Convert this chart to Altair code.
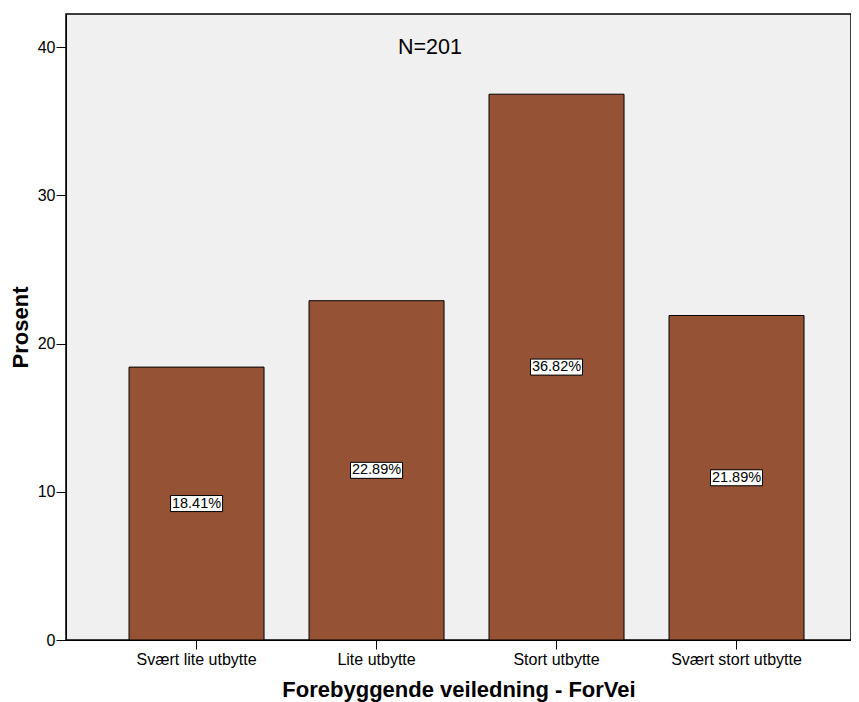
import altair as alt
import pandas as pd

categories = ["Svært lite utbytte", "Lite utbytte", "Stort utbytte", "Svært stort utbytte"]
values = [18.41, 22.89, 36.82, 21.89]
labels = ["18.41%", "22.89%", "36.82%", "21.89%"]

df = pd.DataFrame({"cat": categories, "val": values, "lab": labels})
df["half"] = df["val"] / 2

W, H = 785, 626
FONT = "Liberation Sans"

x = alt.X("cat:N", sort=categories,
          scale=alt.Scale(paddingInner=0.25, paddingOuter=0.3056, align=0.573),
          axis=alt.Axis(title="Forebyggende veiledning - ForVei", labelAngle=0,
                        labelFontSize=16, labelColor="black", labelFont=FONT,
                        titleFontSize=22, titleFont=FONT, titleFontWeight="bold",
                        titleColor="black", titleY=56, titleBaseline="alphabetic",
                        tickSize=9, tickColor="black", domainColor="black",
                        labelPadding=2))
yscale = alt.Scale(domain=[0, 42.23], nice=False, zero=True)

bars = alt.Chart(df).mark_bar(color="#955235", stroke="black", strokeWidth=1).encode(
    x=x,
    y=alt.Y("val:Q", scale=yscale,
            axis=alt.Axis(title="Prosent", values=[0, 10, 20, 30, 40], grid=False,
                          labelFontSize=16, labelColor="black", labelFont=FONT,
                          titleFontSize=22, titleFont=FONT, titleFontWeight="bold",
                          titleColor="black", titleX=-39, titleBaseline="alphabetic",
                          tickSize=10, tickColor="black", domainColor="black",
                          labelPadding=1)),
)

boxes = alt.Chart(df).mark_point(
    shape="M-1,-0.308L1,-0.308L1,0.308L-1,0.308Z",
    filled=True, fill="white", stroke="black", strokeWidth=1, opacity=1, size=2704,
).encode(x=alt.X("cat:N", sort=categories), y=alt.Y("half:Q", scale=yscale))

texts = alt.Chart(df).mark_text(fontSize=14.5, font=FONT, color="black", baseline="middle").encode(
    x=alt.X("cat:N", sort=categories), y=alt.Y("half:Q", scale=yscale), text="lab:N")

ntext = alt.Chart(pd.DataFrame({"t": ["N=201"]})).mark_text(
    fontSize=21.5, font=FONT, color="black", baseline="middle").encode(
    x=alt.value(364), y=alt.value(34), text="t:N")

chart = alt.layer(bars, boxes, texts, ntext).properties(
    width=W, height=H,
    autosize=alt.AutoSizeParams(type="none"),
    padding={"left": 58, "top": 6, "right": 0, "bottom": 63},
).configure_view(fill="#F0F0F0", stroke="black", strokeWidth=1.5)

chart.save("out.html", embed_options={"renderer": "svg", "actions": False})
